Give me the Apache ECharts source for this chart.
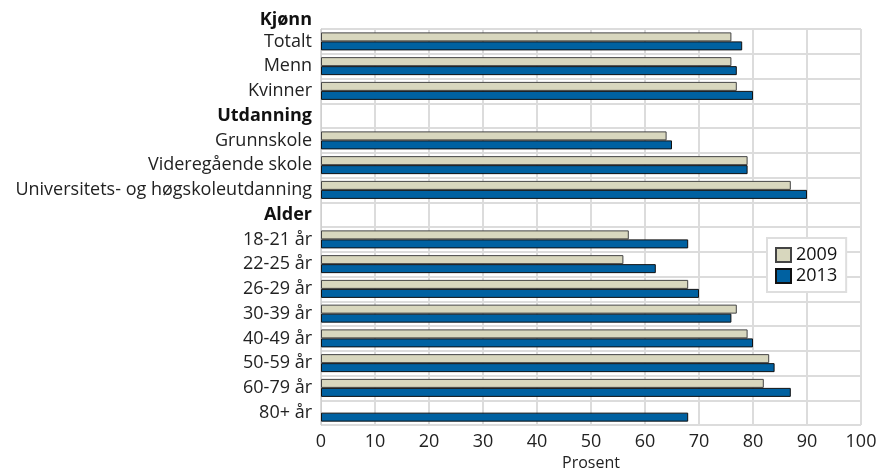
<!DOCTYPE html>
<html>
<head>
<meta charset="utf-8">
<script src="https://cdn.jsdelivr.net/npm/echarts@6/dist/echarts.min.js"></script>
<style>html,body{margin:0;padding:0;background:#fff}#c{width:881px;height:468px}</style>
</head>
<body>
<div id="c"></div>
<script>
var groupTitle = 'Kjønn';
var categories = ['Totalt','Menn','Kvinner','Utdanning','Grunnskole','Videregående skole','Universitets- og høgskoleutdanning','Alder','18-21 år','22-25 år','26-29 år','30-39 år','40-49 år','50-59 år','60-79 år','80+ år'];
var headers = ['Utdanning','Alder'];
var values2009 = [76,76,77,null,64,79,87,null,57,56,68,77,79,83,82,null];
var values2013 = [78,77,80,null,65,79,90,null,68,62,70,76,80,84,87,68];
var xTicks = [0,10,20,30,40,50,60,70,80,90,100];
var xTitle = 'Prosent';

var chart = echarts.init(document.getElementById('c'));
var FONT = '"Open Sans", "Noto Sans", sans-serif';
chart.setOption({
  animation: false,
  textStyle: {fontFamily: FONT},
  grid: {left: 321, right: 20, top: 29, bottom: 43, containLabel: false, outerBoundsMode: 'none'},
  graphic: [{
    type: 'text', x: 312, y: 20,
    style: {text: groupTitle, textAlign: 'right', textVerticalAlign: 'middle', font: 'bold 18px ' + FONT, fill: '#111'}
  }],
  legend: {
    orient: 'vertical', left: 767, top: 238,
    backgroundColor: '#fff', borderColor: '#dedede', borderWidth: 2,
    padding: [8, 9, 7, 8], itemGap: 3,
    itemWidth: 15, itemHeight: 14, icon: 'rect',
    textStyle: {fontSize: 18, color: '#111', fontFamily: FONT},
    data: ['2009','2013']
  },
  xAxis: {
    type: 'value', min: xTicks[0], max: xTicks[xTicks.length-1], interval: 10,
    axisLine: {show: false}, axisTick: {show: false},
    axisLabel: {fontSize: 18, color: '#222', margin: 8},
    splitLine: {show: true, lineStyle: {color: '#dcdcdc', width: 2}},
    name: xTitle, nameLocation: 'middle', nameGap: 27,
    nameTextStyle: {fontSize: 16, color: '#222'}
  },
  yAxis: {
    type: 'category', inverse: true, data: categories,
    axisTick: {show: false},
    axisLine: {show: true, lineStyle: {color: '#cfcfcf', width: 1}},
    axisLabel: {
      fontSize: 18, color: '#222', margin: 9,
      formatter: function (v) { return headers.indexOf(v) >= 0 ? '{b|' + v + '}' : v; },
      rich: {b: {fontWeight: 'bold', fontSize: 18, color: '#111'}}
    },
    splitLine: {show: true, lineStyle: {color: '#dcdcdc', width: 2}}
  },
  series: [
    {name: '2009', type: 'bar', data: values2009, barWidth: 9, barGap: '0%',
     itemStyle: {color: '#d8d7be', borderColor: '#444', borderWidth: 1}},
    {name: '2013', type: 'bar', data: values2013, barWidth: 9, barGap: '0%',
     itemStyle: {color: '#0061a1', borderColor: '#111', borderWidth: 1}}
  ]
});
</script>
</body>
</html>
